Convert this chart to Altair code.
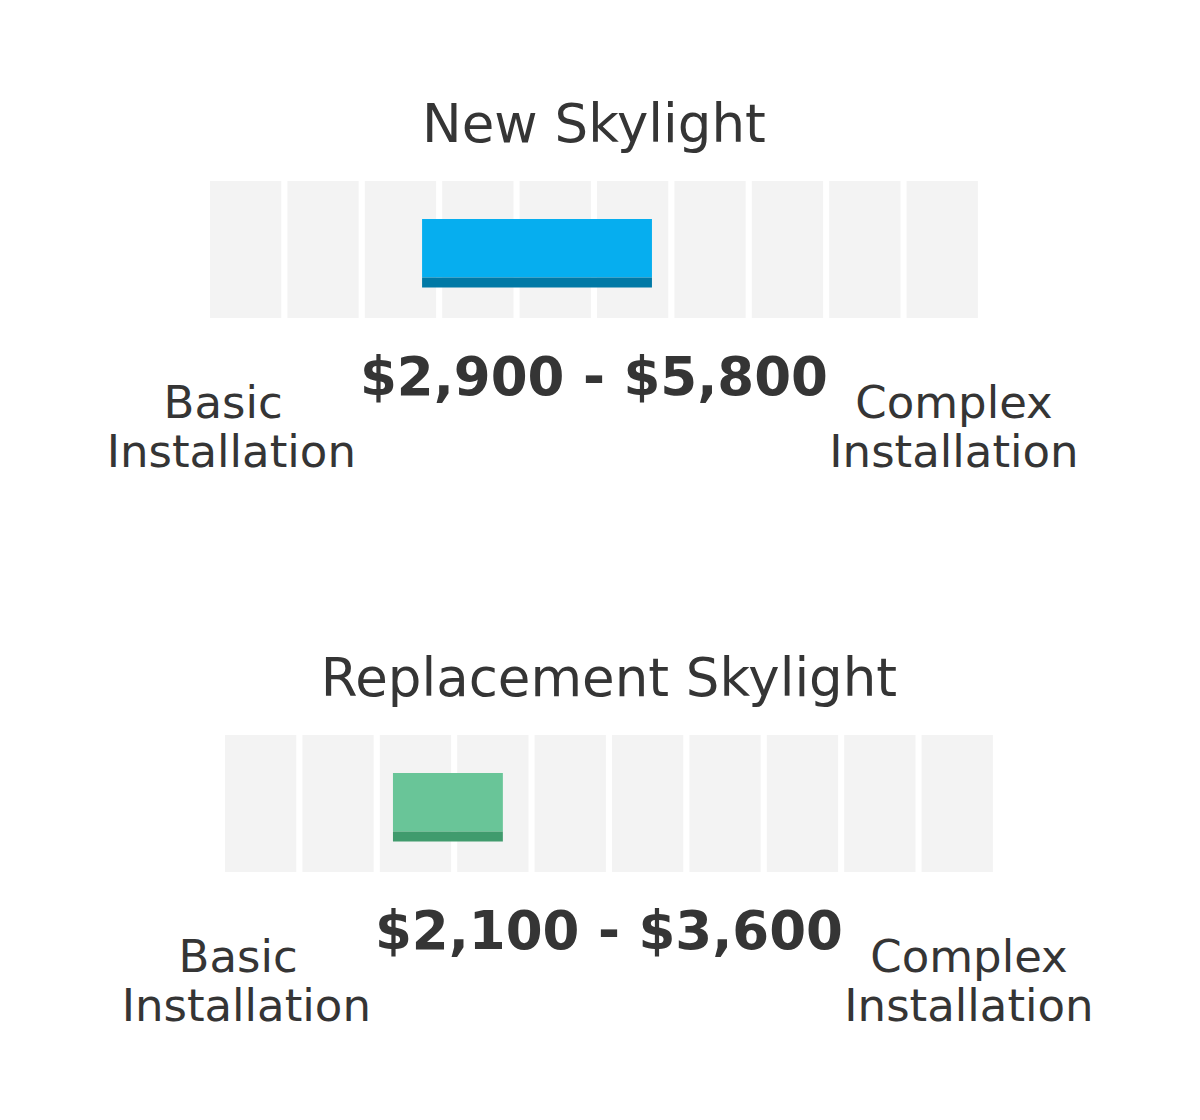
import altair as alt
import pandas as pd

# ---- data ----
TITLES = ["New Skylight", "Replacement Skylight"]
LOW_PRICE = [2900, 2100]
HIGH_PRICE = [5800, 3600]
# bar extents on the 0-10,000 track (10 cells of 1,000 each), as drawn
BAR_START = [2740, 2170]
BAR_END = [5710, 3590]
CELLS = list(range(10))
LEFT_LINES = ["Basic", "Installation"]
RIGHT_LINES = ["Complex", "Installation"]

# ---- styles / layout ----
FILL = ["#06aeef", "#69c598"]
EDGE = ["#0079a6", "#409b6d"]
CELL_COLOR = "#f3f3f3"
TEXT_COLOR = "#353535"
FONT = "DejaVu Sans"
W = 1184
PX_PER_UNIT = 0.0774  # pixels per dollar on the track
CELL_STEP = 1000
CELL_WIDTH = 921
TRACK_LEFT = [202, 217]
PANEL_H = [554, 550]
LEFT_OFFSETS = [170, 275]     # track units from track start, per line
RIGHT_OFFSETS = [9612, 9612]
LINE_Y = [410, 458.5]


def fmt(v):
    return "${:,}".format(v)


def panel(i):
    d0 = -TRACK_LEFT[i] / PX_PER_UNIT
    d1 = d0 + W / PX_PER_UNIT
    xs = alt.Scale(domain=[d0, d1], range=[0, W], nice=False, zero=False)

    def X(f):
        return alt.X(f, type="quantitative", scale=xs, axis=None)

    cells = pd.DataFrame({"x": [c * CELL_STEP for c in CELLS]})
    cells["x2"] = cells["x"] + CELL_WIDTH
    start = cells["x"].min()
    track_mid = (start + cells["x2"].max()) / 2

    bar = pd.DataFrame({"s": [BAR_START[i]], "e": [BAR_END[i]]})
    texts = pd.DataFrame({
        "x": [track_mid],
        "title": [TITLES[i]],
        "price": [fmt(LOW_PRICE[i]) + " - " + fmt(HIGH_PRICE[i])],
    })

    cell_layer = alt.Chart(cells).mark_rect(color=CELL_COLOR).encode(
        x=X("x"), x2="x2", y=alt.value(173), y2=alt.value(310))
    bar_top = alt.Chart(bar).mark_rect(color=FILL[i]).encode(
        x=X("s"), x2="e", y=alt.value(211), y2=alt.value(269.5))
    bar_edge = alt.Chart(bar).mark_rect(color=EDGE[i]).encode(
        x=X("s"), x2="e", y=alt.value(269.5), y2=alt.value(279.5))
    title = alt.Chart(texts).mark_text(
        font=FONT, fontSize=53, color=TEXT_COLOR, align="center",
        baseline="alphabetic").encode(x=X("x"), y=alt.value(134), text="title:N")
    price = alt.Chart(texts).mark_text(
        font=FONT, fontSize=53, fontWeight="bold", color=TEXT_COLOR,
        align="center", baseline="alphabetic").encode(
        x=X("x"), y=alt.value(387), text="price:N")

    layers = [cell_layer, bar_top, bar_edge, title, price]
    for k in range(2):
        lines = pd.DataFrame({
            "x": [start + LEFT_OFFSETS[k], start + RIGHT_OFFSETS[k]],
            "t": [LEFT_LINES[k], RIGHT_LINES[k]],
        })
        layers.append(alt.Chart(lines).mark_text(
            font=FONT, fontSize=45, color=TEXT_COLOR, align="center",
            baseline="alphabetic").encode(
            x=X("x"), y=alt.value(LINE_Y[k]), text="t:N"))

    return alt.layer(*layers).properties(width=W, height=PANEL_H[i])


chart = alt.vconcat(panel(0), panel(1), spacing=0, bounds="flush").properties(
    padding=0, background="white").configure_view(strokeWidth=0)

chart.save("out.html", embed_options={"renderer": "svg", "actions": False})
